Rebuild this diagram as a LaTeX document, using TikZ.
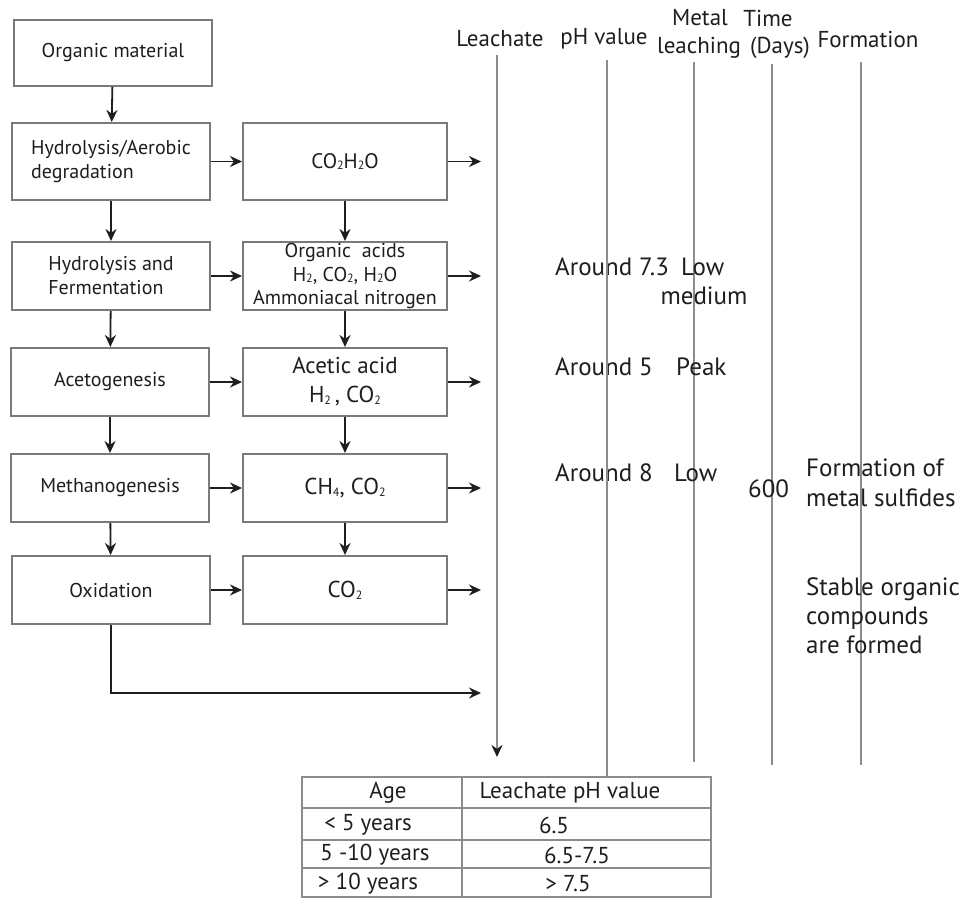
\documentclass[tikz,border=0pt]{standalone}
\usepackage{fontspec}
\setmainfont{PT Sans}
\usetikzlibrary{arrows.meta}
\newcommand{\sbd}[1]{\raisebox{-0.15ex}{\fontsize{12}{12}\selectfont #1}}
\definecolor{boxline}{HTML}{7A7A7A}
\definecolor{vline}{HTML}{8C8C8C}
\definecolor{ink}{HTML}{1E1E1E}
\tikzset{
  procbox/.style={draw=boxline, line width=2pt, inner sep=0pt, text=ink,
    align=center, font=\fontsize{20}{24}\selectfont},
  lbox/.style={procbox, minimum width=198pt},
  rbox/.style={procbox, minimum width=204pt},
  arr/.style={draw=ink, line width=1.8pt, -{Stealth[length=12pt,width=11pt]}},
  col/.style={draw=vline, line width=2.2pt},
  hdr/.style={text=ink, font=\fontsize{23}{30}\selectfont, align=center, inner sep=0pt},
  val/.style={text=ink, font=\fontsize{25}{30}\selectfont, align=left, inner sep=0pt},
  tab/.style={text=ink, font=\fontsize{23}{26}\selectfont, inner sep=0pt},
  tline/.style={draw=vline, line width=2pt}
}
\begin{document}
\begin{tikzpicture}[x=1pt,y=-1pt]
\useasboundingbox (0,0) rectangle (961,899);
\fill[white] (0,0) rectangle (961,899);
% left column
\node[lbox, minimum height=66pt] (om) at (113,53) {Organic material};
\node[lbox, minimum height=77pt, align=left] (ha) at (111,161.5) {Hydrolysis/Aerobic\\degradation};
\node[lbox, minimum height=68pt, align=left] (hf) at (111,276) {Hydrolysis and\\Fermentation};
\node[lbox, minimum height=68pt] (ac) at (110,382) {Acetogenesis};
\node[lbox, minimum height=68pt] (me) at (110,488) {Methanogenesis};
\node[lbox, minimum height=68pt] (ox) at (111,590) {Oxidation};
% right column
\node[rbox, minimum height=77pt, font=\fontsize{21}{24}\selectfont] (co) at (345,161.5) {CO\sbd{2}H\sbd{2}O};
\node[rbox, minimum height=68pt, font=\fontsize{20}{23.5}\selectfont] (oa) at (345,276) {Organic\ \ acids\\H\sbd{2}, CO\sbd{2}, H\sbd{2}O\\Ammoniacal nitrogen};
\node[rbox, minimum height=68pt, font=\fontsize{23}{29}\selectfont] (aa) at (345,382) {Acetic acid\\H\sbd{2}\,, CO\sbd{2}};
\node[rbox, minimum height=68pt, font=\fontsize{23}{26}\selectfont] (cm) at (345,488) {CH\sbd{4}, CO\sbd{2}};
\node[rbox, minimum height=68pt, font=\fontsize{23}{26}\selectfont] (cx) at (345,590) {CO\sbd{2}};
% down arrows
\draw[arr] (om) -- (ha);
\draw[arr] (ha) -- (hf);
\draw[arr] (hf) -- (ac);
\draw[arr] (ac) -- (me);
\draw[arr] (me) -- (ox);
\draw[arr] (co) -- (oa);
\draw[arr] (oa) -- (aa);
\draw[arr] (aa) -- (cm);
\draw[arr] (cm) -- (cx);
% across arrows
\draw[arr] (ha.east) -- (co.west);
\draw[arr] (hf.east) -- (oa.west);
\draw[arr] (ac.east) -- (aa.west);
\draw[arr] (me.east) -- (cm.west);
\draw[arr] (ox.east) -- (cx.west);
% outgoing arrows
\coordinate (ex) at (481,0);
\draw[arr] (co.east) -- (co.east -| ex);
\draw[arr] (oa.east) -- (oa.east -| ex);
\draw[arr] (aa.east) -- (aa.east -| ex);
\draw[arr] (cm.east) -- (cm.east -| ex);
\draw[arr] (cx.east) -- (cx.east -| ex);
\coordinate (oxend) at (481,693);
\draw[arr] (ox.south) |- (oxend);
% column headers
\node[hdr] (hl) at (500,39) {Leachate};
\node[hdr] (hp) at (604,39) {pH value};
\node[hdr] (hm1) at (700,18) {Metal};
\node[hdr] (hm2) at (699,48) {leaching};
\node[hdr] (ht1) at (768,18) {Time};
\node[hdr] (ht2) at (780,48) {(Days)};
\node[hdr] (hfm) at (868,39) {Formation};
% vertical lines
\coordinate (l1t) at (497,55); \coordinate (l1b) at (497,757);
\coordinate (l2t) at (607,60);
\coordinate (l3t) at (694,62); \coordinate (l3b) at (694,762);
\coordinate (l4t) at (772,64); \coordinate (l4b) at (772,765);
\coordinate (l5t) at (861,62); \coordinate (l5b) at (861,765);
\draw[col, -{Stealth[length=12pt,width=11pt,color=ink]}] (l1t) -- (l1b);
\draw[col] (l4t) -- (l4b);
\draw[col] (l5t) -- (l5b);
\draw[col] (l3t) -- (l3b);
% values
\node[val, anchor=west] (v1) at (555,267) {Around 7.3};
\node[val, anchor=west] (v1b) at (681,267) {Low};
\node[val] (v1c) at (704,296) {medium};
\node[val, anchor=west] (v2) at (555,367) {Around 5};
\node[val, anchor=west] (v2b) at (676,367) {Peak};
\node[val, anchor=west] (v3) at (555,473) {Around 8};
\node[val, anchor=west] (v3b) at (674,473) {Low};
\node[val, anchor=west] (v3c) at (748,489) {600};
\node[val, anchor=west] (v3d) at (806,483) {Formation of\\metal sulfides};
\node[val, anchor=west, font=\fontsize{25}{29}\selectfont] (v4) at (806,616) {Stable organic\\compounds\\are formed};
% table
\coordinate (tl) at (302,777); \coordinate (br) at (711,897);
\coordinate (l2b) at (607,777);
\draw[col] (l2t) -- (l2b);
\draw[tline] (tl) rectangle (br);
\draw[tline] (302,808) -- (711,808);
\draw[tline] (302,840) -- (711,840);
\draw[tline] (302,868) -- (711,868);
\draw[tline] (462,777) -- (462,897);
\node[tab] (ta) at (388,793) {Age};
\node[tab] (tb) at (570,793) {Leachate pH value};
\node[tab] (r1a) at (368,825) {< 5 years};
\node[tab] (r1b) at (554,825) {6.5};
\node[tab] (r2a) at (375,855) {5 -10 years};
\node[tab] (r2b) at (577,855) {6.5-7.5};
\node[tab] (r3a) at (368,884) {> 10 years};
\node[tab] (r3b) at (568,884) {> 7.5};
\end{tikzpicture}
\end{document}
